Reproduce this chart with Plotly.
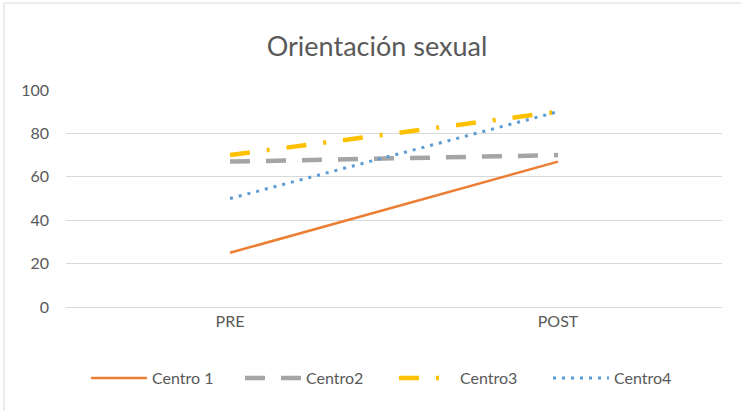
import plotly.graph_objects as go

categories = ["PRE", "POST"]
series_names = ["Centro 1", "Centro2", "Centro3", "Centro4"]
centro1 = [25, 67]
centro2 = [67, 70]
centro3 = [70, 90]
centro4 = [50, 90]
y_ticks = [0, 20, 40, 60, 80, 100]

W, H = 741, 411
ML, MR, MT, MB = 66, 19, 90, 104

styles = [
    dict(color="#ED7D31", width=2.5, dash="solid"),
    dict(color="#A5A5A5", width=4.5, dash="20px,16px"),
    dict(color="#FFC000", width=4.5, dash="20px,17px,3px,17px"),
    dict(color="#5B9BD5", width=3, dash="3px,6px"),
]

fig = go.Figure()
for name, vals, st in zip(series_names, [centro1, centro2, centro3, centro4], styles):
    fig.add_trace(go.Scatter(
        x=categories, y=vals, mode="lines", name=name,
        line=dict(color=st["color"], width=st["width"], dash=st["dash"],
                  shape="linear"),
    ))

pw = W - ML - MR
ph = H - MT - MB
fig.add_shape(type="rect", xref="paper", yref="paper",
              x0=(4 - ML) / pw, x1=(W + 5 - ML) / pw,
              y0=-(H + 5 - MT - ph) / ph, y1=(MT - 3) / ph + 1,
              line=dict(color="#D9D9D9", width=1), layer="below")

fig.update_layout(
    width=W, height=H,
    margin=dict(l=ML, r=MR, t=MT, b=MB),
    paper_bgcolor="white", plot_bgcolor="white",
    font=dict(family="Lato, Open Sans, sans-serif", size=16, color="#595959"),
    title=dict(text="Orientación sexual", xref="container", x=377 / W,
               xanchor="center", yref="container",
               y=1 - 47 / H, yanchor="middle",
               font=dict(size=27, color="#595959")),
    xaxis=dict(type="category", range=[-0.5, 1.5], showgrid=False,
               showline=True, linecolor="#D9D9D9", linewidth=1,
               ticks="", tickfont=dict(size=16, color="#595959")),
    yaxis=dict(range=[0, 100], tickvals=y_ticks, showgrid=True,
               gridcolor="#D9D9D9", gridwidth=1, zeroline=False,
               showline=False, ticks="", ticklabelstandoff=16,
               tickfont=dict(size=16, color="#595959")),
    legend=dict(orientation="h", xanchor="left", x=(86 - ML) / pw,
                y=-(378 - MT - ph) / ph, yanchor="middle",
                font=dict(size=16, color="#595959"),
                itemwidth=56, entrywidth=83, entrywidthmode="pixels",
                tracegroupgap=0),
    showlegend=True,
)

fig.write_html("out.html", config={"displayModeBar": False},
               post_script="document.body.style.margin='0';document.body.style.overflow='hidden';")
